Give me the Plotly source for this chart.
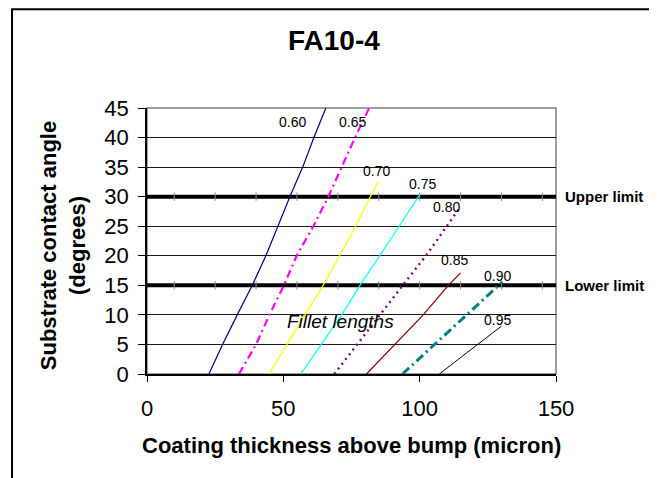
import plotly.graph_objects as go

# ---- data ----
fillet_labels = ["0.60", "0.65", "0.70", "0.75", "0.80", "0.85", "0.90", "0.95"]

ang_060 = [0, 5, 10, 15, 20, 25, 30, 35, 40, 45]
thk_060 = [22.7, 27.7, 33.1, 38.6, 43.6, 48.0, 52.4, 57.1, 61.2, 65.6]

ang_065 = [0, 5, 10, 15, 20, 25, 30, 35, 40, 45]
thk_065 = [33.7, 40.0, 44.9, 50.2, 54.9, 61.0, 66.5, 71.4, 76.3, 81.5]

ang_070 = [0, 5, 10, 15, 20, 25, 30, 32.5]
thk_070 = [44.7, 51.3, 58.0, 64.6, 70.6, 76.5, 81.9, 84.8]

ang_075 = [0, 5, 10, 15, 20, 25, 30.4]
thk_075 = [56.4, 64.0, 71.4, 78.1, 85.4, 92.5, 100.1]

ang_080 = [0, 5, 10, 15, 20, 25, 28]
thk_080 = [68.7, 77.0, 85.4, 93.8, 102.3, 110.0, 114.5]

ang_085 = [0, 5, 10, 15, 17.1]
thk_085 = [80.5, 90.9, 101.3, 110.5, 115.0]

ang_090 = [0, 5, 10, 15, 15.6]
thk_090 = [93.7, 105.4, 117.2, 129.0, 130.4]

ang_095 = [0, 4, 8.1]
thk_095 = [107.2, 118.6, 130.0]

limit_x = [-5, 10, 25, 40, 55, 70, 85, 100, 115, 130, 145, 160]
upper_limit = 30
lower_limit = 15

x_ticks = [0, 50, 100, 150]
y_ticks = [0, 5, 10, 15, 20, 25, 30, 35, 40, 45]

# label positions (data coords) near the end of each curve
label_x = [53.5, 75.5, 84.3, 101.2, 110.0, 112.6, 128.7, 128.7]
label_y = [42.6, 42.6, 34.3, 32.1, 28.3, 19.3, 16.6, 9.1]

FONT = "Liberation Sans, Arial, sans-serif"

series = [
    (thk_060, ang_060, "#000080", "solid", 1.2),
    (thk_065, ang_065, "#FF00FF", "8px,4px,2px,4px", 2.2),
    (thk_070, ang_070, "#FFFF00", "solid", 1.2),
    (thk_075, ang_075, "#00FFFF", "solid", 1.2),
    (thk_080, ang_080, "#800080", "2px,4px", 2.4),
    (thk_085, ang_085, "#800000", "solid", 1.2),
    (thk_090, ang_090, "#008080", "9px,4px,2px,4px", 3.0),
    (thk_095, ang_095, "#000000", "solid", 1.0),
]

fig = go.Figure()

for lim in (upper_limit, lower_limit):
    fig.add_trace(go.Scatter(
        x=limit_x, y=[lim] * len(limit_x), mode="lines+markers",
        line=dict(color="#000000", width=4),
        marker=dict(symbol="line-ns", size=6, line=dict(color="#8a8a8a", width=1)),
        hoverinfo="skip", showlegend=False))

for (tx, ty, col, dash, w), name in zip(series, fillet_labels):
    fig.add_trace(go.Scatter(
        x=tx, y=ty, mode="lines", name=name,
        line=dict(color=col, dash=dash, width=w), showlegend=False))

def ann(x, y, text, size, xref="x", yref="y", xanchor="center", **kw):
    return dict(x=x, y=y, xref=xref, yref=yref, text=text, showarrow=False,
                xanchor=xanchor, yanchor="middle",
                font=dict(family=FONT, size=size, color="#000000"), **kw)

annotations = [ann(lx, ly, t, 14) for lx, ly, t in zip(label_x, label_y, fillet_labels)]
annotations.append(ann(70.8, 8.8, "<i>Fillet lengths</i>", 19))
annotations.append(ann(1.017, upper_limit, "<b>Upper limit</b>", 15, xref="paper", xanchor="left"))
annotations.append(ann(1.017, lower_limit, "<b>Lower limit</b>", 15, xref="paper", xanchor="left"))
annotations.append(ann(0.457, 1.252, "<b>FA10-4</b>", 28, xref="paper", yref="paper"))
annotations.append(ann(-0.205, 0.481, "<b>Substrate contact angle</b><br><b>(degrees)</b>", 22,
                       xref="paper", yref="paper", textangle=-90))
annotations.append(ann(0.501, -0.267, "<b>Coating thickness above bump (micron)</b>", 22,
                       xref="paper", yref="paper"))

shapes = [
    dict(type="rect", xref="paper", yref="paper", x0=0, x1=1, y0=0, y1=1,
         line=dict(color="#808080", width=1.5), layer="below"),
    dict(type="rect", xref="paper", yref="paper", x0=-0.330, x1=1.2396, y0=-0.45, y1=1.371,
         line=dict(color="#000000", width=2), layer="below"),
]

fig.update_layout(
    width=657, height=478, autosize=False,
    margin=dict(l=139, r=109, t=100, b=112),
    paper_bgcolor="#FFFFFF", plot_bgcolor="#FFFFFF",
    font=dict(family=FONT, size=22, color="#000000"),
    annotations=annotations, shapes=shapes, showlegend=False,
)
fig.update_xaxes(range=[0, 150], tickvals=x_ticks, showgrid=False, zeroline=False,
                 showline=True, linecolor="#000000", linewidth=1.5,
                 ticks="outside", ticklen=6, tickcolor="#000000",
                 ticklabelstandoff=8, tickfont=dict(size=22))
fig.update_yaxes(range=[0, 45], tickvals=y_ticks, showgrid=True, gridcolor="#1a1a1a", gridwidth=1,
                 zeroline=False, showline=True, linecolor="#000000", linewidth=1.5,
                 ticks="outside", ticklen=7, tickcolor="#000000",
                 ticklabelstandoff=5, tickfont=dict(size=22))

fig.write_html("out.html")
